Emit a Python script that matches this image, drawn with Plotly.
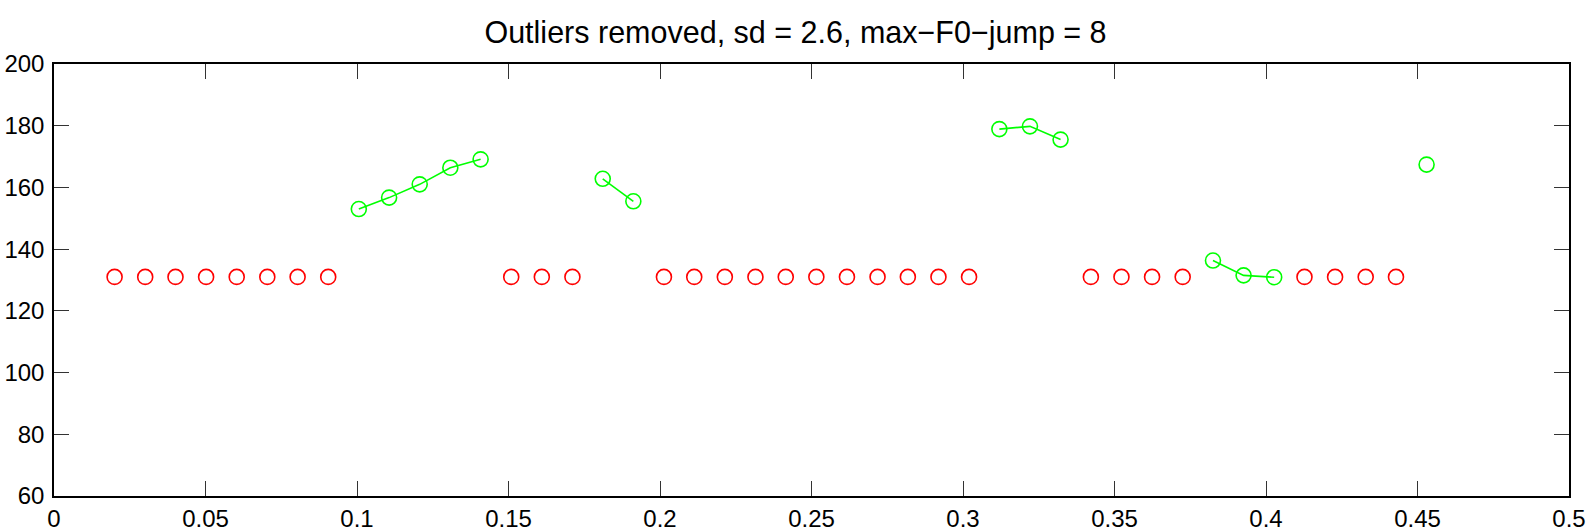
import plotly.graph_objects as go

# Frame times (s)
times = [0.0200, 0.0301, 0.0401, 0.0502, 0.0603, 0.0704, 0.0804, 0.0905,
         0.1006, 0.1106, 0.1207, 0.1308, 0.1408,
         0.1509, 0.1610, 0.1711,
         0.1811, 0.1912,
         0.2013, 0.2113, 0.2214, 0.2315, 0.2415, 0.2516, 0.2617, 0.2718,
         0.2818, 0.2919, 0.3020,
         0.3120, 0.3221, 0.3322,
         0.3422, 0.3523, 0.3624, 0.3725,
         0.3825, 0.3926, 0.4027,
         0.4127, 0.4228, 0.4329, 0.4429,
         0.4530]

# Kept F0 values (None = removed outlier)
f0_kept = [None] * 8 + [153.0, 156.7, 161.0, 166.4, 169.1] + [None] * 3 + \
          [162.8, 155.5] + [None] * 11 + [178.9, 179.8, 175.5] + [None] * 4 + \
          [136.3, 131.5, 130.9] + [None] * 4 + [167.4]

# Removed outliers are drawn at the median line
outlier_level = 131.0
f0_removed = [outlier_level if v is None else None for v in f0_kept]

title_text = "Outliers removed, sd = 2.6, max\u2212F0\u2212jump = 8"
x_ticks = [0, 0.05, 0.1, 0.15, 0.2, 0.25, 0.3, 0.35, 0.4, 0.45, 0.5]
x_tick_labels = ["0", "0.05", "0.1", "0.15", "0.2", "0.25", "0.3", "0.35", "0.4", "0.45", "0.5"]
y_ticks = [60, 80, 100, 120, 140, 160, 180, 200]

FONT = "Liberation Sans, Arial, Helvetica, sans-serif"

fig = go.Figure()
fig.add_trace(go.Scatter(
    x=times, y=f0_removed, mode="markers",
    marker=dict(symbol="circle-open", size=15, color="#ff0000", line=dict(width=1.6, color="#ff0000")),
    showlegend=False, hoverinfo="x+y"))
fig.add_trace(go.Scatter(
    x=times, y=f0_kept, mode="lines+markers", connectgaps=False,
    line=dict(color="#00ff00", width=1.6),
    marker=dict(symbol="circle-open", size=15, color="#00ff00", line=dict(width=1.6, color="#00ff00")),
    showlegend=False, hoverinfo="x+y"))

axis_common = dict(
    showgrid=False, zeroline=False, showline=True, linecolor="black", linewidth=1.5,
    mirror="ticks", ticks="inside", ticklen=15, tickwidth=1, tickcolor="#333333",
    tickfont=dict(family=FONT, size=24, color="black"), automargin=False,
)

fig.update_layout(
    width=1591, height=532,
    margin=dict(l=54, r=22, t=64, b=36),
    paper_bgcolor="white", plot_bgcolor="white",
    title=dict(text=title_text, x=0.5, xanchor="center", y=1 - 32 / 532, yanchor="middle",
               font=dict(family=FONT, size=30.5, color="black"), automargin=False),
    xaxis=dict(range=[0, 0.5], tickvals=x_ticks, ticktext=x_tick_labels, ticklabelstandoff=0, **axis_common),
    yaxis=dict(range=[60, 200], tickvals=y_ticks, ticklabelstandoff=3, **axis_common),
)

fig.write_html("out.html", config={"displayModeBar": False},
               post_script="document.body.style.margin='0';document.body.style.overflow='hidden';")
